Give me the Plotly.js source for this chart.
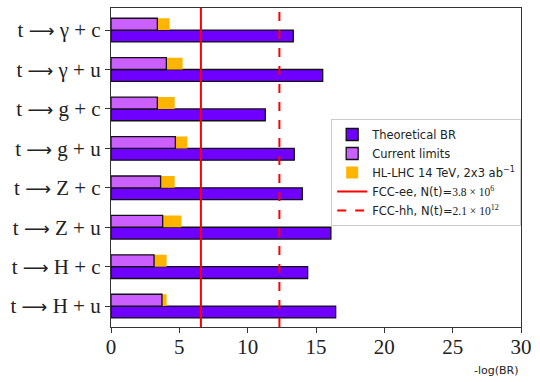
<!DOCTYPE html>
<html>
<head>
<meta charset="utf-8">
<script src="https://cdn.plot.ly/plotly-3.0.1.min.js"></script>
<style>
  html, body { margin: 0; padding: 0; background: #fff; }
  #chart { width: 540px; height: 382px; }
</style>
</head>
<body>
<div id="chart"></div>
<script>
// decay channels, top to bottom
const channels = [
  "t → γ + c", "t → γ + u", "t → g + c", "t → g + u",
  "t → Z + c", "t → Z + u", "t → H + c", "t → H + u",
];
// -log10(BR)
const theoretical = [13.34, 15.49, 11.29, 13.41, 14.0, 16.09, 14.39, 16.44];
const currentLimits = [3.39, 4.05, 3.39, 4.71, 3.63, 3.78, 3.15, 3.73];
const hlLhc = [4.29, 5.24, 4.66, 5.58, 4.66, 5.15, 4.07, 4.07];
// number of top quarks at future colliders
const fccEeTops = 3.8e6;
const fccHhTops = 2.1e12;

const serif = "<span style='font-family:Liberation Serif, serif'>";
// longer, thinner arrow like the LaTeX one
const tickText = channels.map((c) =>
  c.replace(" → ", " <span style='font-family:DejaVu Sans;font-size:18px'>⟶</span> ")
);

const edge = { color: "#111", width: 1.3 };

const data = [
  {
    type: "bar", orientation: "h", name: "Theoretical BR",
    y: channels, x: theoretical, width: 0.3, offset: 0,
    marker: { color: "#6f00ff", line: edge },
    legendrank: 1, hoverinfo: "none",
  },
  {
    type: "bar", orientation: "h", name: "HL-LHC 14 TeV, 2x3 ab<sup>−1</sup>",
    y: channels, x: hlLhc, width: 0.3, offset: -0.3,
    marker: { color: "#ffb400", line: { width: 0 } },
    legendrank: 3, hoverinfo: "none",
  },
  {
    type: "bar", orientation: "h", name: "Current limits",
    y: channels, x: currentLimits, width: 0.3, offset: -0.3,
    marker: { color: "#cc5fff", line: edge },
    legendrank: 2, hoverinfo: "none",
  },
];

const shapes = [
  {
    type: "line", xref: "x", yref: "paper",
    x0: Math.log10(fccEeTops), x1: Math.log10(fccEeTops), y0: 0, y1: 1,
    line: { color: "#ff0000", width: 2 },
    showlegend: true, legendrank: 4,
    name: "FCC-ee, N(t)=" + serif + "3.8 × 10<sup>6</sup></span>",
  },
  {
    type: "line", xref: "x", yref: "paper",
    x0: Math.log10(fccHhTops), x1: Math.log10(fccHhTops), y0: 0, y1: 1,
    line: { color: "#ff0000", width: 2, dash: "dash" },
    showlegend: true, legendrank: 5,
    name: "FCC-hh, N(t)=" + serif + "2.1 × 10<sup>12</sup></span>",
  },
];

const layout = {
  width: 540, height: 382,
  margin: { l: 111, r: 19, t: 8, b: 55, autoexpand: false },
  paper_bgcolor: "#fff", plot_bgcolor: "#fff",
  barmode: "overlay",
  showlegend: true,
  font: { family: "DejaVu Sans, sans-serif", color: "#111" },
  xaxis: {
    range: [0, 30], tickvals: [0, 5, 10, 15, 20, 25, 30],
    automargin: false,
    showgrid: false, zeroline: false,
    showline: true, mirror: true, linecolor: "#333", linewidth: 1.2,
    ticks: "outside", ticklen: 5, tickcolor: "#333",
    ticklabelstandoff: -4,
    tickfont: { family: "Liberation Serif, serif", size: 21, color: "#222" },
  },
  yaxis: {
    type: "category", range: [7.53, -0.56],
    tickvals: channels, ticktext: tickText,
    automargin: false,
    showgrid: false, zeroline: false,
    showline: true, mirror: true, linecolor: "#333", linewidth: 1.2,
    ticks: "outside", ticklen: 5, tickcolor: "#333",
    tickfont: { family: "Liberation Serif, serif", size: 21, color: "#222" },
  },
  legend: {
    x: 0.537, y: 0.652, xanchor: "left", yanchor: "top",
    bgcolor: "rgba(255,255,255,0.9)", bordercolor: "#ccc", borderwidth: 1,
    font: { size: 11.5, color: "#222" },
    tracegroupgap: 0, itemwidth: 30,
  },
  shapes: shapes,
  annotations: [
    {
      text: "-log(BR)", xref: "paper", yref: "paper", x: 1, y: -0.11,
      xanchor: "right", yanchor: "top", showarrow: false,
      font: { size: 11, color: "#222" },
    },
  ],
};

Plotly.newPlot("chart", data, layout, { displayModeBar: false });
</script>
</body>
</html>
